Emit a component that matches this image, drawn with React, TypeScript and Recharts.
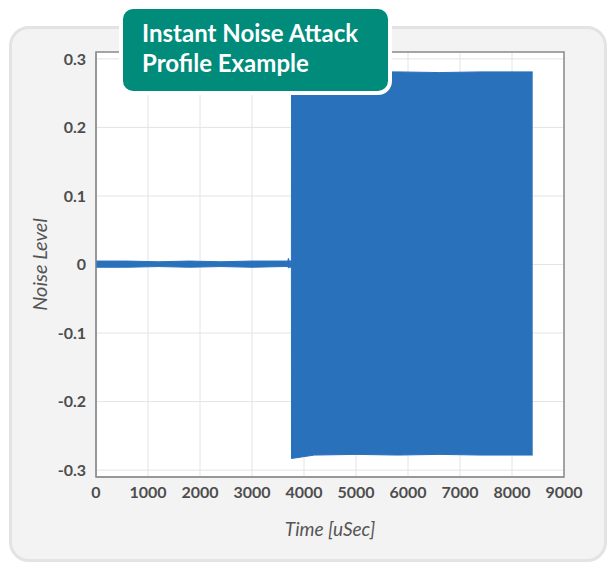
import {
  ComposedChart,
  Area,
  XAxis,
  YAxis,
  CartesianGrid,
  ReferenceArea,
  Label,
} from 'recharts';

// envelope of the noise signal
const timeUs = [0, 600, 1200, 1800, 2400, 3000, 3600, 3690, 3700, 3715, 3758, 3760, 4200, 5000, 5800, 6600, 7400, 8398];
const upper = [0.005, 0.005, 0.004, 0.005, 0.004, 0.005, 0.005, 0.005, 0.009, 0.005, 0.005, 0.282, 0.28, 0.281, 0.281, 0.28, 0.281, 0.281];
const lower = [-0.004, -0.004, -0.003, -0.004, -0.003, -0.004, -0.003, -0.003, -0.005, -0.004, -0.004, -0.283, -0.278, -0.277, -0.278, -0.277, -0.278, -0.278];

const xTicks = [0, 1000, 2000, 3000, 4000, 5000, 6000, 7000, 8000, 9000];
const yTicks = [-0.3, -0.2, -0.1, 0, 0.1, 0.2, 0.3];

const chartData = timeUs.map((t, i) => ({ t, band: [lower[i], upper[i]] }));

const FONT = 'Lato, "Open Sans", sans-serif';
const tickStyle = { fill: '#4d4d4d', fontSize: 16, fontWeight: 700, fontFamily: FONT };

export default function App() {
  return (
    <div style={{ position: 'absolute', left: 0, top: 0, width: 611, height: 564, background: '#fff' }}>
      <div
        style={{
          position: 'absolute',
          left: 9,
          top: 26,
          width: 592,
          height: 530,
          background: '#f3f3f3',
          border: '3px solid #e3e3e3',
          borderRadius: 20,
        }}
      />
      <div style={{ position: 'absolute', left: 0, top: 0 }}>
        <ComposedChart width={611} height={564} data={chartData} margin={{ top: 52, right: 47, bottom: 17, left: 10 }}>
          <CartesianGrid stroke="#e4e4e4" fill="#fff" />
          <ReferenceArea x1={0} x2={9000} y1={-0.31} y2={0.31} fill="none" stroke="#8c8c8c" strokeWidth={1.5} ifOverflow="extendDomain" />
          <XAxis
            dataKey="t"
            type="number"
            domain={[0, 9000]}
            ticks={xTicks}
            tickLine={false}
            axisLine={{ stroke: '#8c8c8c' }}
            tickSize={0}
            tickMargin={10}
            height={70}
            tick={tickStyle}
            interval={0}
          >
            <Label
              content={(props: any) => {
                const vb = props.viewBox;
                return (
                  <text x={vb.x + vb.width / 2} y={vb.y + 59} textAnchor="middle" fill="#555" fontSize={19} fontStyle="italic" fontFamily={FONT}>
                    Time [uSec]
                  </text>
                );
              }}
            />
          </XAxis>
          <YAxis
            type="number"
            domain={[-0.31, 0.31]}
            ticks={yTicks}
            tickLine={false}
            axisLine={{ stroke: '#8c8c8c' }}
            tickSize={0}
            tickMargin={10}
            width={86}
            tick={tickStyle}
            interval={0}
          >
            <Label
              content={(props: any) => {
                const vb = props.viewBox;
                const cx = vb.x + 37;
                const cy = vb.y + vb.height / 2;
                return (
                  <text x={cx} y={cy} transform={`rotate(-90 ${cx} ${cy})`} textAnchor="middle" fill="#555" fontSize={20} fontStyle="italic" fontFamily={FONT}>
                    Noise Level
                  </text>
                );
              }}
            />
          </YAxis>
          <Area
            dataKey="band"
            type="linear"
            stroke="#2a71bc"
            strokeWidth={1}
            fill="#2a71bc"
            fillOpacity={1}
            dot={false}
            activeDot={false}
            isAnimationActive={false}
          />
        </ComposedChart>
      </div>
      <div
        style={{
          position: 'absolute',
          left: 119,
          top: 5,
          width: 246,
          height: 73,
          background: '#008b7b',
          border: '4px solid #fff',
          borderRadius: 14,
          color: '#fff',
          fontFamily: FONT,
          fontWeight: 700,
          fontSize: 24,
          lineHeight: '30px',
          padding: '9px 0 0 19px',
          boxSizing: 'content-box',
        }}
      >
        Instant Noise Attack
        <br />
        Profile Example
      </div>
    </div>
  );
}
